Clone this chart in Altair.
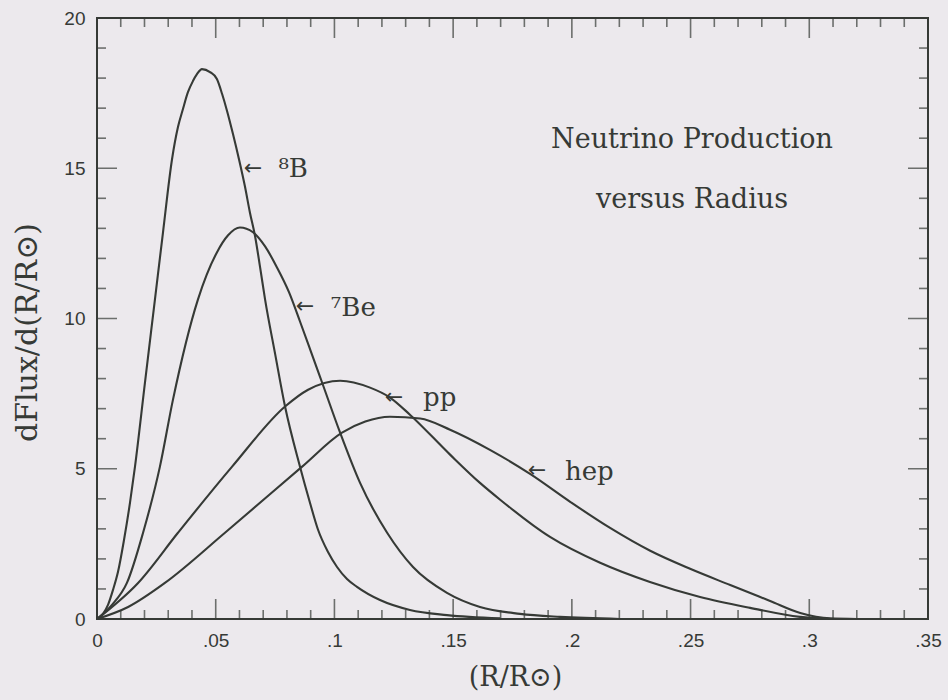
import altair as alt
import pandas as pd

# Plot area size in pixels
W, H = 831, 601
INK = "#363a36"
PAPER = "#ECE9ED"

# Neutrino production profiles: radius (R/Rsun) and dFlux/d(R/Rsun)
r_b8 = [0, 0.00253, 0.00463, 0.00674, 0.00885, 0.01137, 0.0139, 0.0160, 0.0202, 0.0244,
        0.0278, 0.0316, 0.0341, 0.0362, 0.0383, 0.0404, 0.0421, 0.0442, 0.0476, 0.0505,
        0.0527, 0.0548, 0.0573, 0.0598, 0.0623, 0.0644, 0.0666, 0.0687, 0.0708, 0.0750,
        0.0792, 0.0855, 0.0897, 0.0931, 0.0973, 0.1011, 0.1053, 0.1095, 0.1192, 0.1318,
        0.1474, 0.1698]
f_b8 = [0, 0.17, 0.47, 0.97, 1.57, 2.63, 3.87, 5.07, 7.87, 10.63,
        12.87, 15.3, 16.37, 16.97, 17.53, 17.9, 18.13, 18.3, 18.2, 17.97,
        17.47, 16.9, 16.13, 15.3, 14.4, 13.53, 12.73, 11.7, 10.63, 8.83,
        7.07, 5.07, 3.87, 2.97, 2.23, 1.73, 1.33, 1.07, 0.63, 0.3,
        0.13, 0.02]

r_be7 = [0, 0.0063, 0.0126, 0.0194, 0.0265, 0.032, 0.0425, 0.0505, 0.0552, 0.0602,
         0.0657, 0.0708, 0.0758, 0.0809, 0.0855, 0.0901, 0.0948, 0.1024, 0.1108, 0.1222,
         0.1331, 0.1474, 0.1613, 0.1782, 0.1950, 0.2203]
f_be7 = [0, 0.47, 1.2, 2.87, 5.07, 7.3, 10.63, 12.2, 12.77, 13.03,
         12.87, 12.4, 11.7, 10.87, 9.9, 8.9, 7.87, 6.2, 4.53, 2.87,
         1.73, 0.87, 0.4, 0.17, 0.07, 0]

r_pp = [0, 0.0173, 0.0341, 0.0569, 0.0792, 0.0889, 0.1024, 0.115, 0.1234, 0.1318,
        0.1487, 0.1613, 0.1698, 0.1908, 0.2119, 0.2329, 0.2540, 0.2751, 0.2961, 0.3088]
f_pp = [0, 1.2, 2.87, 5.07, 7.07, 7.63, 7.93, 7.7, 7.37, 6.8,
        5.47, 4.53, 3.97, 2.73, 1.87, 1.23, 0.73, 0.37, 0.07, 0]

r_hep = [0, 0.0131, 0.0286, 0.0539, 0.0864, 0.1032, 0.113, 0.1234, 0.1361, 0.1487,
         0.1655, 0.1824, 0.1993, 0.2161, 0.2330, 0.2498, 0.2667, 0.2835, 0.2962, 0.3088,
         0.32]
f_hep = [0, 0.4, 1.2, 2.87, 5.07, 6.2, 6.57, 6.73, 6.67, 6.3,
         5.63, 4.83, 3.9, 3.03, 2.27, 1.67, 1.13, 0.6, 0.2, 0.02,
         0]

# Axis ticks
x_major = [0, 0.05, 0.1, 0.15, 0.2, 0.25, 0.3, 0.35]
x_minor = [round(i * 0.01, 2) for i in range(36) if i % 5 != 0]
y_major = [0, 5, 10, 15, 20]
y_minor = [i for i in range(21) if i % 5 != 0]

# Curve labels with arrows
arrow_r = [0.0657, 0.0876, 0.1251, 0.1853]
arrow_f = [15.0, 10.4, 7.4, 4.97]
label_r = [0.0764, 0.0985, 0.1373, 0.1971]
label_f = [14.7, 10.07, 7.1, 4.63]
label_text = ["⁸B", "⁷Be", "pp", "hep"]

heading_r = [0.2506, 0.2506]
heading_f = [15.93, 13.93]
heading_text = ["Neutrino Production", "versus Radius"]

curves = pd.concat([
    pd.DataFrame({"r": r_b8, "f": f_b8, "s": "8B"}),
    pd.DataFrame({"r": r_be7, "f": f_be7, "s": "7Be"}),
    pd.DataFrame({"r": r_pp, "f": f_pp, "s": "pp"}),
    pd.DataFrame({"r": r_hep, "f": f_hep, "s": "hep"}),
])

x_ticks = pd.DataFrame({"v": x_major + x_minor,
                        "len": [40] * len(x_major) + [18] * len(x_minor)})
y_ticks = pd.DataFrame({"v": y_major + y_minor,
                        "len": [40] * len(y_major) + [18] * len(y_minor)})

x_scale = alt.Scale(domain=[0, 0.35], nice=False, zero=False)
y_scale = alt.Scale(domain=[0, 20], nice=False, zero=False)

x_axis = alt.Axis(
    values=x_major, ticks=False, domain=False, grid=False,
    labelExpr="datum.value == 0 ? '0' : replace(format(datum.value, '.2~f'), '0.', '.')",
    labelFont="Liberation Sans", labelFontSize=19, labelColor=INK,
    labelPadding=12, labelFlush=False, labelOverlap=False,
    title="(R/R⊙)", titleFont="DejaVu Serif", titleFontSize=27,
    titleFontWeight="normal", titleColor=INK,
    titleX=418, titleY=58, titleAlign="center", titleBaseline="middle",
)
y_axis = alt.Axis(
    values=y_major, ticks=False, domain=False, grid=False,
    labelFont="Liberation Sans", labelFontSize=19, labelColor=INK,
    labelPadding=12, labelFlush=False, labelOverlap=False,
    title="dFlux/d(R/R⊙)", titleFont="DejaVu Serif", titleFontSize=30,
    titleFontWeight="normal", titleColor=INK, titleAngle=270,
    titleX=-70, titleY=314, titleAlign="center", titleBaseline="middle",
)

lines = alt.Chart(curves).mark_line(
    color=INK, strokeWidth=2.1, interpolate="monotone"
).encode(
    x=alt.X("r:Q", scale=x_scale, axis=x_axis),
    y=alt.Y("f:Q", scale=y_scale, axis=y_axis),
    detail="s:N",
)

# Inward-pointing ticks on all four edges (double length, clipped to the frame)
tick_len = alt.Size("len:Q", scale=None, legend=None)
bottom_ticks = alt.Chart(x_ticks).mark_tick(color=INK, thickness=1.6, clip=True).encode(
    x=alt.X("v:Q", scale=x_scale), y=alt.value(H), size=tick_len)
top_ticks = alt.Chart(x_ticks).mark_tick(color=INK, thickness=1.6, clip=True).encode(
    x=alt.X("v:Q", scale=x_scale), y=alt.value(0), size=tick_len)
left_ticks = alt.Chart(y_ticks).mark_tick(color=INK, thickness=1.6, clip=True).encode(
    y=alt.Y("v:Q", scale=y_scale), x=alt.value(0), size=tick_len)
right_ticks = alt.Chart(y_ticks).mark_tick(color=INK, thickness=1.6, clip=True).encode(
    y=alt.Y("v:Q", scale=y_scale), x=alt.value(W), size=tick_len)

arrows = alt.Chart(pd.DataFrame({"r": arrow_r, "f": arrow_f, "t": ["←"] * 4})).mark_text(
    font="DejaVu Sans", fontSize=22, color=INK, align="center", baseline="middle"
).encode(x=alt.X("r:Q", scale=x_scale), y=alt.Y("f:Q", scale=y_scale), text="t:N")

labels = alt.Chart(pd.DataFrame({"r": label_r, "f": label_f, "t": label_text})).mark_text(
    font="DejaVu Serif", fontSize=26, color=INK, align="left", baseline="alphabetic"
).encode(x=alt.X("r:Q", scale=x_scale), y=alt.Y("f:Q", scale=y_scale), text="t:N")

heading = alt.Chart(pd.DataFrame({"r": heading_r, "f": heading_f, "t": heading_text})).mark_text(
    font="DejaVu Serif", fontSize=27, color=INK, align="center", baseline="middle"
).encode(x=alt.X("r:Q", scale=x_scale), y=alt.Y("f:Q", scale=y_scale), text="t:N")

chart = alt.layer(
    lines, bottom_ticks, top_ticks, left_ticks, right_ticks, arrows, labels, heading
).properties(
    width=W, height=H,
    autosize=alt.AutoSizeParams(type="none"),
    padding={"left": 97, "top": 18, "right": 20, "bottom": 81},
    background=PAPER,
).configure_view(
    stroke=INK, strokeWidth=2, fill=PAPER
)

chart.save("out.html", embed_options={"renderer": "svg", "actions": False})
